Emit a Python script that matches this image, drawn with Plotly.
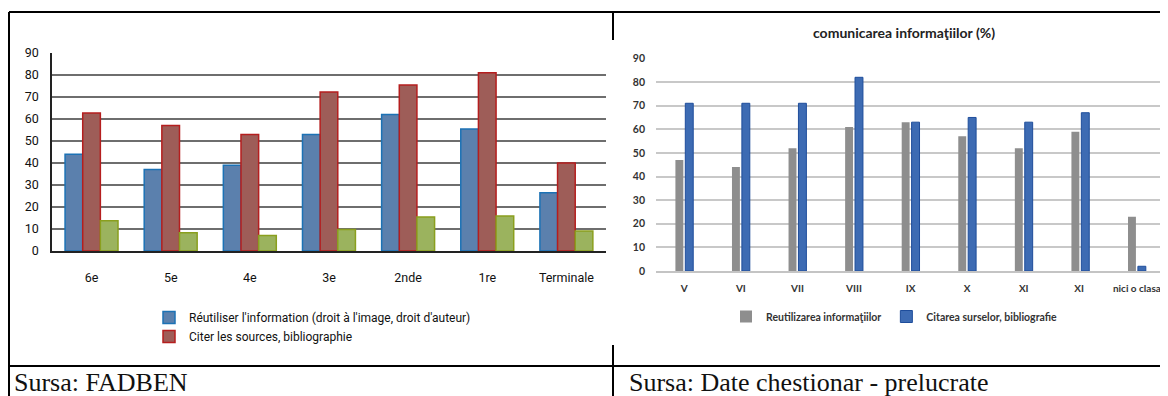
import plotly.graph_objects as go

# left chart (FADBEN)
niveaux = ["6e", "5e", "4e", "3e", "2nde", "1re", "Terminale"]
reutiliser = [44, 37, 39, 53, 62, 55.5, 26.5]
citer = [62.7, 57, 53, 72.3, 75.5, 81, 40]
autre = [13.8, 8.3, 7.1, 9.8, 15.5, 15.9, 9.1]

# right chart (chestionar)
clase = ["V", "VI", "VII", "VIII", "IX", "X", "XI", "XI ", "nici o clasa"]
reutilizarea = [47, 44, 52, 61, 63, 57, 52, 59, 23]
citarea = [71, 71, 71, 82, 63, 65, 63, 67, 2]

# the page body has an 8px margin, so the figure is a bit smaller than the window
OFF = 8
W, H = 1160, 388


def fx(p):
    return (p - OFF) / W


def fy(p):
    return 1 - (p - OFF) / H


left_font = "Roboto, sans-serif"
right_font = "Lato, Open Sans, sans-serif"

fig = go.Figure()

fig.add_trace(go.Bar(
    x=niveaux, y=reutiliser, name="Réutiliser l'information (droit à l'image, droit d'auteur)",
    marker=dict(color="#5B80AD", line=dict(color="#1C72B5", width=1.5)),
    offset=-0.335, width=0.223, xaxis="x", yaxis="y", legend="legend",
))
fig.add_trace(go.Bar(
    x=niveaux, y=citer, name="Citer les sources, bibliographie",
    marker=dict(color="#9E5D58", line=dict(color="#B51E1E", width=1.5)),
    offset=-0.112, width=0.223, xaxis="x", yaxis="y", legend="legend",
))
fig.add_trace(go.Bar(
    x=niveaux, y=autre, name="autre",
    marker=dict(color="#9BB35E", line=dict(color="#8A9F1E", width=1.5)),
    offset=0.111, width=0.223, xaxis="x", yaxis="y", showlegend=False,
))

fig.add_trace(go.Bar(
    x=clase, y=reutilizarea, name="Reutilizarea informaţiilor",
    marker=dict(color="#8E8E8E", line=dict(width=0)),
    offset=-0.157, width=0.14, xaxis="x2", yaxis="y2", legend="legend2",
))
fig.add_trace(go.Bar(
    x=clase, y=citarea, name="Citarea surselor, bibliografie",
    marker=dict(color="#3D6BB3", line=dict(color="#1E4D9B", width=1)),
    offset=0.018, width=0.14, xaxis="x2", yaxis="y2", legend="legend2",
))

fig.update_layout(
    width=W, height=H, autosize=False,
    margin=dict(l=0, r=0, t=0, b=0),
    paper_bgcolor="white", plot_bgcolor="white",
    barmode="overlay",
    xaxis=dict(
        domain=[fx(52), fx(606)], showgrid=False, showline=True, linecolor="#222",
        linewidth=1.5, ticks="", ticklabelstandoff=14, automargin=False,
        tickfont=dict(family=left_font, size=12.5, color="#111"),
    ),
    yaxis=dict(
        domain=[fy(251), fy(53)], range=[0, 90], dtick=10, showgrid=True,
        gridcolor="#6E6E6E", gridwidth=1.5, zeroline=False, showline=True,
        linecolor="#222", linewidth=1.5, ticks="", ticklabelstandoff=9, automargin=False,
        tickfont=dict(family=left_font, size=12.5, color="#111"),
    ),
    xaxis2=dict(
        domain=[fx(656), 1.0], range=[-0.5, 8.55], showgrid=False, showline=True,
        linecolor="#C4C4C4", linewidth=1.5, ticks="", ticklabelstandoff=7,
        tickfont=dict(family=right_font, size=10, color="#333", weight="bold"),
        anchor="y2", automargin=False,
    ),
    yaxis2=dict(
        domain=[fy(271), fy(58.4)], range=[0, 90], dtick=10, showgrid=True,
        gridcolor="#C8C8C8", gridwidth=1.5, zeroline=False, ticks="",
        ticklabelstandoff=10, anchor="x2", automargin=False,
        tickfont=dict(family=right_font, size=10.5, color="#333", weight="bold"),
    ),
    legend=dict(
        x=fx(149), y=fy(303), xanchor="left", yanchor="top", orientation="v",
        font=dict(family=left_font, size=12, color="#111"),
        bgcolor="rgba(0,0,0,0)", tracegroupgap=0, itemwidth=30,
    ),
    legend2=dict(
        x=fx(726), y=fy(302), xanchor="left", yanchor="top", orientation="h",
        font=dict(family=right_font, size=10.5, color="#333", weight="bold"),
        bgcolor="rgba(0,0,0,0)", itemwidth=30,
    ),
    showlegend=True,
)

fig.add_annotation(
    text="comunicarea informaţiilor (%)", x=fx(904), y=fy(32), xref="paper", yref="paper",
    xanchor="center", yanchor="middle", showarrow=False,
    font=dict(family=right_font, size=14, color="#222", weight="bold"),
)

cap_font = dict(family="Liberation Serif, Times New Roman, serif", size=26, color="#111")
fig.add_annotation(text="Sursa: FADBEN", x=fx(12), y=fy(382), xref="paper", yref="paper",
                   xanchor="left", yanchor="middle", showarrow=False, font=cap_font)
fig.add_annotation(text="Sursa: Date chestionar - prelucrate", x=fx(627), y=fy(382),
                   xref="paper", yref="paper", xanchor="left", yanchor="middle",
                   showarrow=False, font=cap_font)

# table borders
border = dict(color="black", width=2)
for x0, y0, x1, y1 in [
    (9, 12, 1168, 12), (9, 12, 9, 396), (9, 366, 1168, 366),
    (613, 12, 613, 40), (613, 345, 613, 396),
]:
    fig.add_shape(type="line", xref="paper", yref="paper",
                  x0=fx(x0), y0=fy(y0), x1=fx(x1), y1=fy(y1), line=border)

fig.write_html("out.html")
